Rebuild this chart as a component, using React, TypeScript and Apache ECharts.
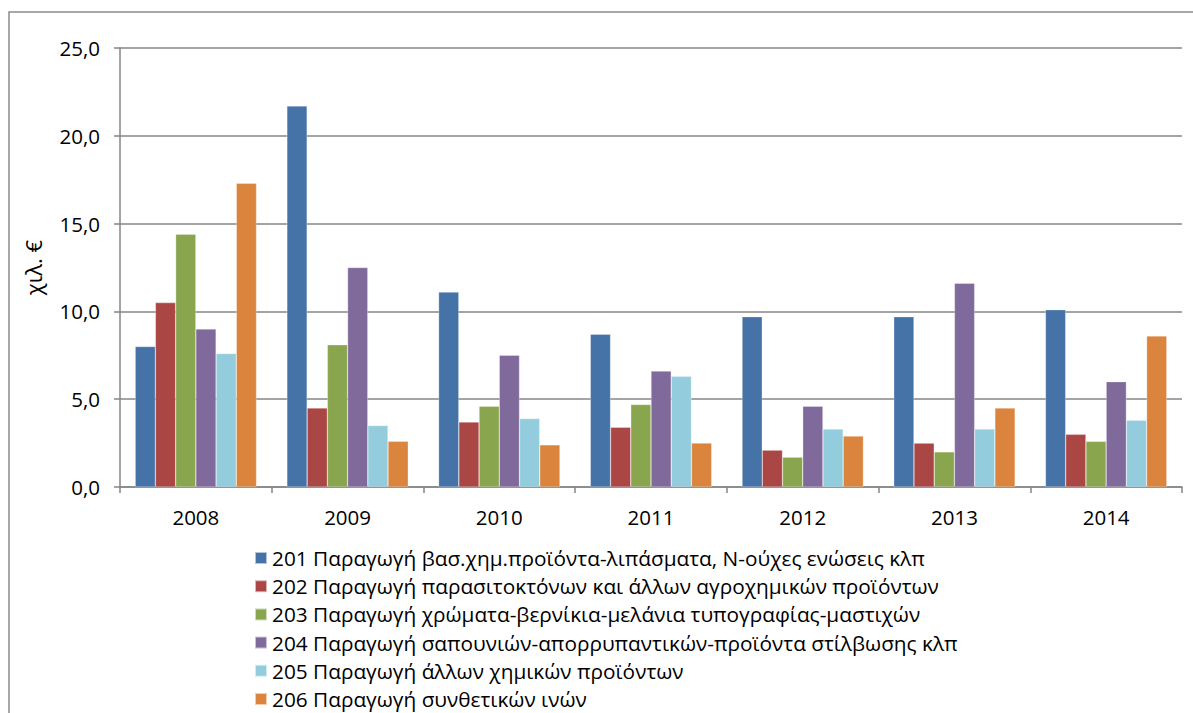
import React, { useEffect, useRef } from "react";
import * as echarts from "echarts";

const years = ["2008", "2009", "2010", "2011", "2012", "2013", "2014"];
const seriesNames = [
  "201 Παραγωγή βασ.χημ.προϊόντα-λιπάσματα, N-ούχες ενώσεις κλπ",
  "202 Παραγωγή παρασιτοκτόνων και άλλων αγροχημικών προϊόντων",
  "203 Παραγωγή χρώματα-βερνίκια-μελάνια τυπογραφίας-μαστιχών",
  "204 Παραγωγή σαπουνιών-απορρυπαντικών-προϊόντα στίλβωσης κλπ",
  "205 Παραγωγή άλλων χημικών προϊόντων",
  "206 Παραγωγή συνθετικών ινών",
];
const s201 = [8.0, 21.7, 11.1, 8.7, 9.7, 9.7, 10.1];
const s202 = [10.5, 4.5, 3.7, 3.4, 2.1, 2.5, 3.0];
const s203 = [14.4, 8.1, 4.6, 4.7, 1.7, 2.0, 2.6];
const s204 = [9.0, 12.5, 7.5, 6.6, 4.6, 11.6, 6.0];
const s205 = [7.6, 3.5, 3.9, 6.3, 3.3, 3.3, 3.8];
const s206 = [17.3, 2.6, 2.4, 2.5, 2.9, 4.5, 8.6];
const seriesData = [s201, s202, s203, s204, s205, s206];
const colors = ["#4572A7", "#AA4643", "#89A54E", "#80699B", "#93CDDD", "#DB843D"];
const yAxisName = "χιλ. €";

const FONT = "Open Sans";

export default function App() {
  const ref = useRef<HTMLDivElement>(null);
  useEffect(() => {
    document.body.style.margin = "0";
    const chart = echarts.init(ref.current!, null, { renderer: "svg" });
    chart.setOption({
      animation: false,
      color: colors,
      textStyle: { fontFamily: FONT },
      graphic: [
        {
          type: "rect",
          shape: { x: 9, y: 12, width: 1300, height: 800 },
          style: { fill: "none", stroke: "#8c8c8c", lineWidth: 1.5 },
          silent: true,
          z: -1,
        },
      ],
      grid: { left: 120, right: 11, top: 48, bottom: 226, containLabel: false },
      legend: {
        orient: "vertical",
        left: 254,
        top: 547,
        height: 220,
        padding: 0,
        itemWidth: 12,
        itemHeight: 12,
        itemGap: 6.2,
        icon: "rect",
        textStyle: { fontFamily: FONT, fontSize: 20.8, color: "#000", lineHeight: 22 },
        data: seriesNames,
      },
      xAxis: {
        type: "category",
        data: years,
        axisLine: { lineStyle: { color: "#868686", width: 1.5 } },
        axisTick: { show: true, length: 6, lineStyle: { color: "#868686", width: 1.5 } },
        axisLabel: { color: "#000", fontSize: 20.5, margin: 19, fontFamily: FONT },
      },
      yAxis: {
        type: "value",
        min: 0,
        max: 25,
        interval: 5,
        name: yAxisName,
        nameLocation: "middle",
        nameGap: 76,
        nameRotate: 90,
        nameTextStyle: { color: "#000", fontSize: 22, fontFamily: FONT },
        axisLine: { show: true, lineStyle: { color: "#868686", width: 1.5 } },
        axisTick: { show: true, length: 6, lineStyle: { color: "#868686", width: 1.5 } },
        splitLine: { lineStyle: { color: "#868686", width: 1.5 } },
        axisLabel: {
          color: "#000",
          fontSize: 20.5,
          margin: 20,
          fontFamily: FONT,
          formatter: (v: number) => v.toFixed(1).replace(".", ","),
        },
      },
      series: seriesData.map((d, i) => ({
        name: seriesNames[i],
        type: "bar",
        data: d,
        barGap: "0%",
        barCategoryGap: "20%",
        itemStyle: { borderColor: "rgba(255,255,255,0.6)", borderWidth: 0.5 },
      })),
    });
    return () => chart.dispose();
  }, []);
  return <div ref={ref} style={{ width: 1193, height: 713 }} />;
}
